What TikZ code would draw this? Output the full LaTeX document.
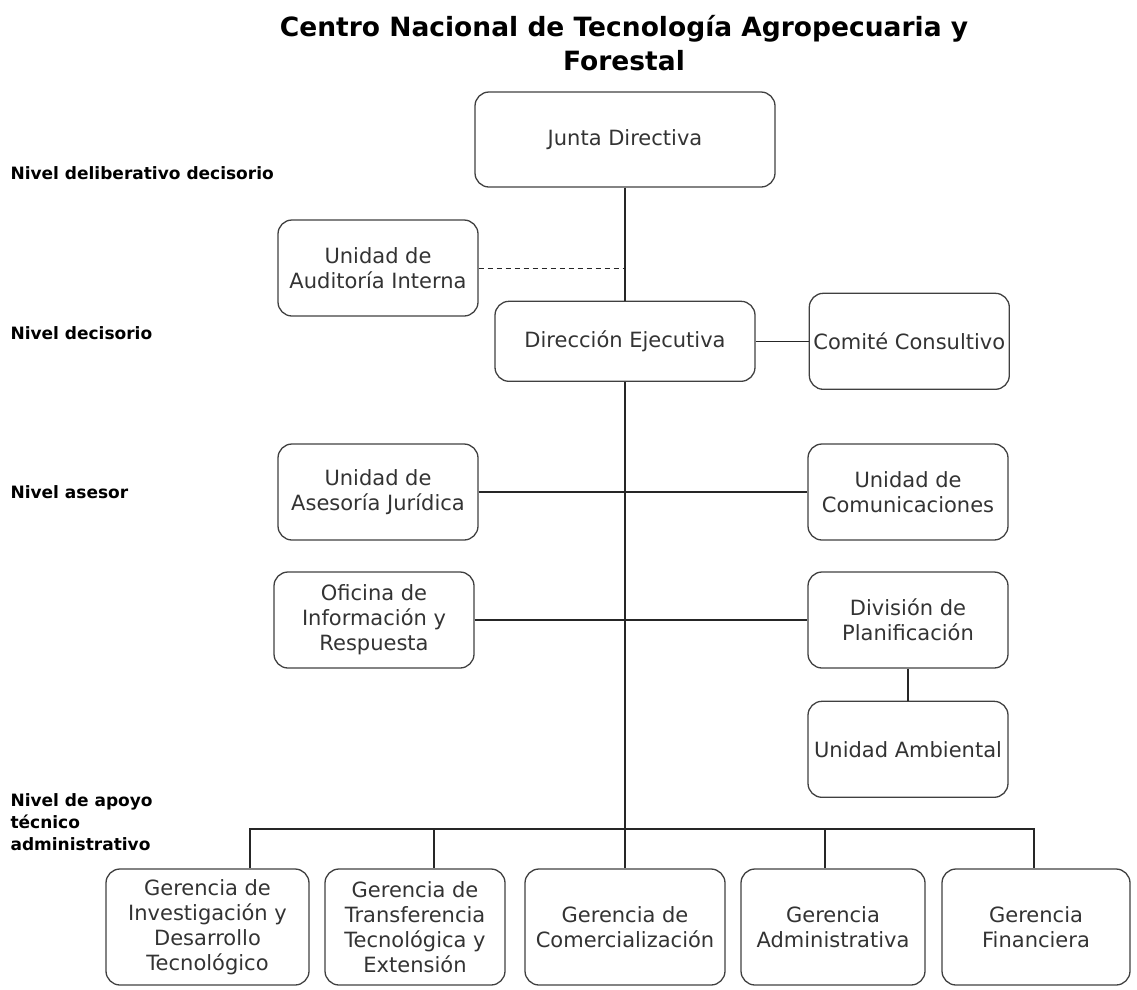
\documentclass[tikz,border=0pt]{standalone}
\usepackage{fontspec}
\setmainfont{DejaVu Sans}
\usetikzlibrary{positioning}

\begin{document}
\begin{tikzpicture}[x=1pt, y=-1pt,
    box/.style={draw=black!75, line width=1.3pt, rounded corners=14pt, align=center,
      text=black!80, inner sep=0pt, font=\fontsize{21}{25}\selectfont},
    level/.style={anchor=west, align=left, font=\bfseries\fontsize{17}{22}\selectfont},
    link/.style={draw=black!85, line width=1.3pt}]
    \useasboundingbox (0,0) rectangle (1137,989);

    % title
    \node[align=center, font=\bfseries\fontsize{26.5}{34}\selectfont] (title) at (624,43)
        {Centro Nacional de Tecnología Agropecuaria y\\Forestal};

    % levels
    \node[level] (lvldel) at (7,173) {Nivel deliberativo decisorio};
    \node[level] (lvldec) at (7,333) {Nivel decisorio};
    \node[level] (lvlase) at (7,492) {Nivel asesor};
    \node[level] (lvlapo) at (7,822) {Nivel de apoyo\\técnico\\administrativo};

    % upper part
    \node[box, minimum width=300, minimum height=95] (junta) at (625,139.5) {Junta Directiva};
    \node[box, minimum width=260, minimum height=80, below=113pt of junta] (direccion) {Dirección Ejecutiva};
    \node[box, minimum width=200, minimum height=96, right=53pt of direccion] (comite) {Comité Consultivo};
    \node[box, minimum width=200, minimum height=96] (auditoria) at (378,268) {Unidad de\\Auditoría Interna};

    % asesor units
    \node[box, minimum width=200, minimum height=96] (juridica) at (378,492) {Unidad de\\Asesoría Jurídica};
    \node[box, minimum width=200, minimum height=96] (comunic) at (908,492) {Unidad de\\Comunicaciones};
    \node[box, minimum width=200, minimum height=96] (oficina) at (374,620) {Oficina de\\Información y\\Respuesta};
    \node[box, minimum width=200, minimum height=96] (planif) at (908,620) {División de\\Planificación};
    \node[box, minimum width=200, minimum height=96, below=32pt of planif] (ambiental) {Unidad Ambiental};

    % gerencias
    \node[box, minimum width=203, minimum height=116] (ginv) at (207.5,927) {Gerencia de\\Investigación y\\Desarrollo\\Tecnológico};
    \node[box, minimum width=180, minimum height=116] (gtra) at (415,927) {Gerencia de\\Transferencia\\Tecnológica y\\Extensión};
    \node[box, minimum width=200, minimum height=116] (gcom) at (625,927) {Gerencia de\\Comercialización};
    \node[box, minimum width=184, minimum height=116] (gadm) at (833,927) {Gerencia\\Administrativa};
    \node[box, minimum width=188, minimum height=116] (gfin) at (1036,927) {Gerencia\\Financiera};

    \coordinate (bus1) at (250,829);
    \coordinate (bus2) at (434,829);
    \coordinate (bus4) at (825,829);
    \coordinate (bus5) at (1034,829);

    % connectors
    \draw[link] (junta) -- (direccion);
    \draw[link, line width=1pt, dash pattern=on 5pt off 4pt] (auditoria.east) -- (auditoria.east -| junta.south);
    \draw[link] (direccion) -- (comite);
    \draw[link] (direccion) -- (gcom);
    \draw[link] (juridica) -- (comunic);
    \draw[link] (oficina) -- (planif);
    \draw[link] (planif) -- (ambiental);
    \draw[link] (bus1 |- ginv.north) -- (bus1) -- (bus5) -- (bus5 |- gfin.north);
    \draw[link] (bus2) -- (bus2 |- gtra.north);
    \draw[link] (bus4) -- (bus4 |- gadm.north);
\end{tikzpicture}
\end{document}
